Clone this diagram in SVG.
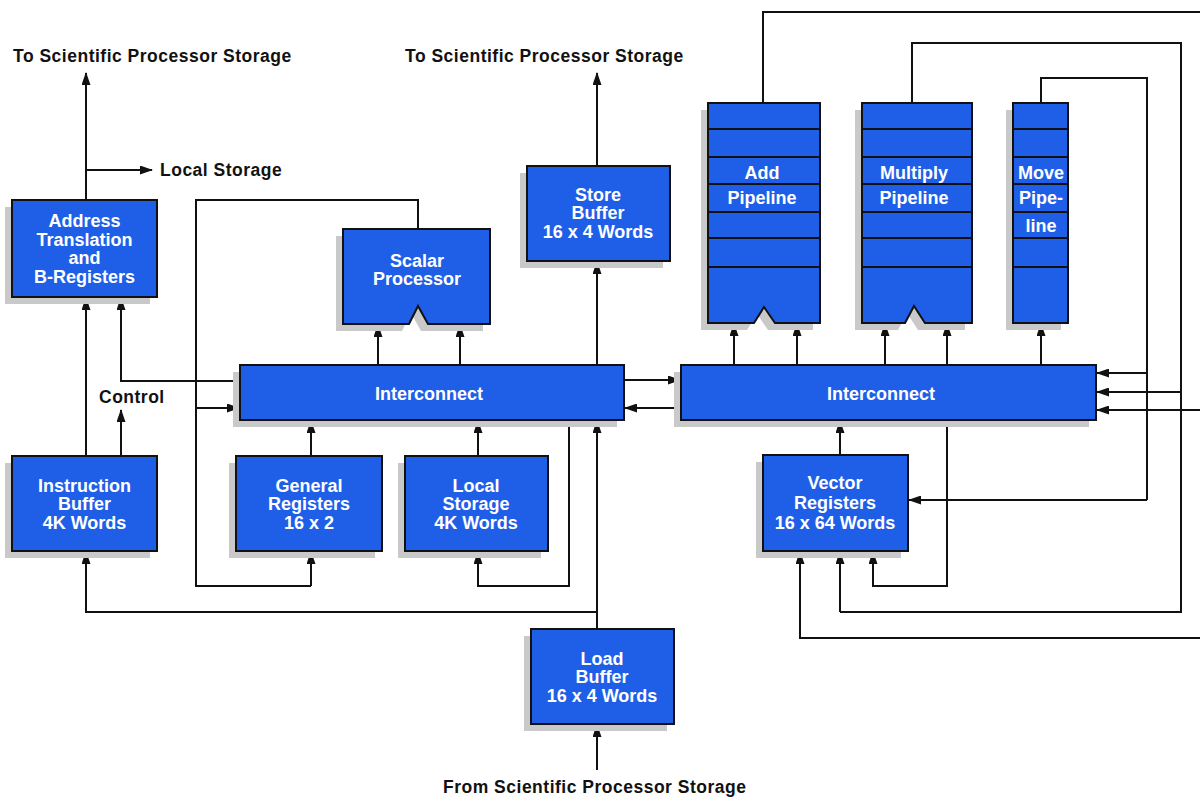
<svg xmlns="http://www.w3.org/2000/svg" width="1200" height="797" viewBox="0 0 1200 797">
  <style>
    .box { fill: #1f5fe8; stroke: #111; stroke-width: 2; }
    .shadow { fill: #c9c9c9; }
    .div { stroke: #111; stroke-width: 2; fill: none; }
    .wt { font-family: "Liberation Sans", Arial, sans-serif; font-weight: bold; font-size: 18px; fill: #fff; text-anchor: middle; }
    .bt { font-family: "Liberation Sans", Arial, sans-serif; font-weight: bold; font-size: 17.5px; fill: #111; letter-spacing: 0.5px; }
    .ln { stroke: #111; stroke-width: 2; fill: none; }
    .ar { marker-end: url(#arrow); }
  </style>
  <defs>
    <marker id="arrow" markerUnits="userSpaceOnUse" markerWidth="13" markerHeight="9" refX="12" refY="4.5" orient="auto">
      <path d="M0,0 L13,4.5 L0,9 Z" fill="#111"/>
    </marker>
  </defs>
  <rect width="1200" height="797" fill="#fff"/>

  <!-- Free labels -->
  <g id="labels">
    <text class="bt" x="13" y="62">To Scientific Processor Storage</text>
    <text class="bt" x="405" y="62">To Scientific Processor Storage</text>
    <text class="bt" x="160" y="176">Local  Storage</text>
    <text class="bt" x="99" y="403">Control</text>
    <text class="bt" x="443" y="793">From Scientific Processor Storage</text>
  </g>

  <!-- Connectors -->
  <g id="connectors">
    <!-- Address translation outputs -->
    <path class="ln ar" d="M86,200 V73"/>
    <path class="ln ar" d="M86,170 H152"/>
    <!-- Instruction buffer to address translation, control -->
    <path class="ln ar" d="M86,456 V298"/>
    <path class="ln ar" d="M121,456 V410"/>
    <!-- Interconnect to address translation -->
    <path class="ln ar" d="M240,381 H121 V298"/>
    <!-- Scalar processor loop -->
    <path class="ln" d="M418,229 V200 H196 V586 H311"/>
    <path class="ln ar" d="M311,586 V552"/>
    <path class="ln ar" d="M196,408 H239"/>
    <!-- Interconnect to scalar processor -->
    <path class="ln ar" d="M378,365 V325"/>
    <path class="ln ar" d="M460,365 V325"/>
    <!-- Registers/storage to interconnect -->
    <path class="ln ar" d="M311,456 V421"/>
    <path class="ln ar" d="M478,456 V421"/>
    <path class="ln ar" d="M569,420 V586 H478 V552"/>
    <!-- Store buffer -->
    <path class="ln ar" d="M597,365 V262"/>
    <path class="ln ar" d="M597,166 V73"/>
    <!-- Load buffer -->
    <path class="ln ar" d="M597,770 V725"/>
    <path class="ln ar" d="M597,629 V421"/>
    <path class="ln ar" d="M597,612 H86 V552"/>
    <!-- Between interconnects -->
    <path class="ln ar" d="M624,380 H680"/>
    <path class="ln ar" d="M681,408 H625"/>
    <!-- Interconnect to pipelines -->
    <path class="ln ar" d="M734,365 V324"/>
    <path class="ln ar" d="M797,365 V324"/>
    <path class="ln ar" d="M885,365 V324"/>
    <path class="ln ar" d="M947,365 V324"/>
    <path class="ln ar" d="M1041,365 V324"/>
    <!-- Vector registers -->
    <path class="ln ar" d="M840,455 V421"/>
    <path class="ln ar" d="M947,420 V586 H873 V552"/>
    <!-- Pipeline outputs -->
    <path class="ln" d="M763,103 V12 H1200"/>
    <path class="ln ar" d="M1200,410 H1097"/>
    <path class="ln ar" d="M1200,638 H800 V552"/>
    <path class="ln" d="M912,103 V43 H1181 V612 H840"/>
    <path class="ln ar" d="M840,612 V552"/>
    <path class="ln ar" d="M1181,392 H1097"/>
    <path class="ln" d="M1041,103 V78 H1147 V500"/>
    <path class="ln ar" d="M1147,500 H909"/>
    <path class="ln ar" d="M1147,373 H1097"/>
  </g>

  <!-- Nodes -->
  <g id="address-translation">
    <rect class="shadow" x="5" y="207" width="145" height="97"/>
    <rect class="box" x="12" y="200" width="145" height="97"/>
    <text class="wt" x="84.5" y="227">Address</text>
    <text class="wt" x="84.5" y="245.5">Translation</text>
    <text class="wt" x="84.5" y="264">and</text>
    <text class="wt" x="84.5" y="282.5">B-Registers</text>
  </g>

  <g id="instruction-buffer">
    <rect class="shadow" x="5" y="463" width="145" height="95"/>
    <rect class="box" x="12" y="456" width="145" height="95"/>
    <text class="wt" x="84.5" y="492">Instruction</text>
    <text class="wt" x="84.5" y="510">Buffer</text>
    <text class="wt" x="84.5" y="528.5">4K  Words</text>
  </g>

  <g id="general-registers">
    <rect class="shadow" x="229" y="463" width="146" height="95"/>
    <rect class="box" x="236" y="456" width="146" height="95"/>
    <text class="wt" x="309" y="492">General</text>
    <text class="wt" x="309" y="510">Registers</text>
    <text class="wt" x="309" y="528.5">16 x 2</text>
  </g>

  <g id="local-storage">
    <rect class="shadow" x="398" y="463" width="143" height="95"/>
    <rect class="box" x="405" y="456" width="143" height="95"/>
    <text class="wt" x="476" y="492">Local</text>
    <text class="wt" x="476" y="510">Storage</text>
    <text class="wt" x="476" y="528.5">4K  Words</text>
  </g>

  <g id="scalar-processor">
    <path class="shadow" d="M336,236 H483 V331 H421 L411,313 L402,331 H336 Z"/>
    <path class="box" d="M343,229 H490 V324 H428 L418,306 L409,324 H343 Z"/>
    <text class="wt" x="417" y="267">Scalar</text>
    <text class="wt" x="417" y="285">Processor</text>
  </g>

  <g id="scalar-interconnect">
    <rect class="shadow" x="233" y="372" width="384" height="55"/>
    <rect class="box" x="240" y="365" width="384" height="55"/>
    <text class="wt" x="429" y="400">Interconnect</text>
  </g>

  <g id="store-buffer">
    <rect class="shadow" x="520" y="173" width="143" height="95"/>
    <rect class="box" x="527" y="166" width="143" height="95"/>
    <text class="wt" x="598" y="201">Store</text>
    <text class="wt" x="598" y="219">Buffer</text>
    <text class="wt" x="598" y="237.5">16 x 4 Words</text>
  </g>

  <g id="load-buffer">
    <rect class="shadow" x="524" y="636" width="143" height="95"/>
    <rect class="box" x="531" y="629" width="143" height="95"/>
    <text class="wt" x="602" y="665">Load</text>
    <text class="wt" x="602" y="683">Buffer</text>
    <text class="wt" x="602" y="701.5">16 x 4 Words</text>
  </g>

  <g id="vector-interconnect">
    <rect class="shadow" x="674" y="372" width="415" height="55"/>
    <rect class="box" x="681" y="365" width="415" height="55"/>
    <text class="wt" x="881" y="400">Interconnect</text>
  </g>

  <g id="vector-registers">
    <rect class="shadow" x="756" y="462" width="145" height="96"/>
    <rect class="box" x="763" y="455" width="145" height="96"/>
    <text class="wt" x="835" y="488.5">Vector</text>
    <text class="wt" x="835" y="508.5">Registers</text>
    <text class="wt" x="835" y="528.5">16 x 64 Words</text>
  </g>

  <g id="add-pipeline">
    <path class="shadow" d="M701,110 H813 V330 H768 L757,314 L747,330 H701 Z"/>
    <path class="box" d="M708,103 H820 V323 H775 L764,307 L754,323 H708 Z"/>
    <path class="div" d="M708,129 H820 M708,157 H820 M708,184 H820 M708,212 H820 M708,238 H820 M708,267 H820"/>
    <text class="wt" x="762" y="179">Add</text>
    <text class="wt" x="762" y="204">Pipeline</text>
  </g>

  <g id="multiply-pipeline">
    <path class="shadow" d="M855,110 H965 V330 H918 L907,313 L898,330 H855 Z"/>
    <path class="box" d="M862,103 H972 V323 H925 L914,306 L905,323 H862 Z"/>
    <path class="div" d="M862,129 H972 M862,157 H972 M862,184 H972 M862,212 H972 M862,238 H972 M862,267 H972"/>
    <text class="wt" x="914" y="179">Multiply</text>
    <text class="wt" x="914" y="204">Pipeline</text>
  </g>

  <g id="move-pipeline">
    <rect class="shadow" x="1006" y="110" width="55" height="220"/>
    <rect class="box" x="1013" y="103" width="55" height="220"/>
    <path class="div" d="M1013,129 H1068 M1013,157 H1068 M1013,184 H1068 M1013,212 H1068 M1013,238 H1068 M1013,267 H1068"/>
    <text class="wt" x="1041" y="179">Move</text>
    <text class="wt" x="1041" y="204">Pipe-</text>
    <text class="wt" x="1041" y="232">line</text>
  </g>
</svg>
